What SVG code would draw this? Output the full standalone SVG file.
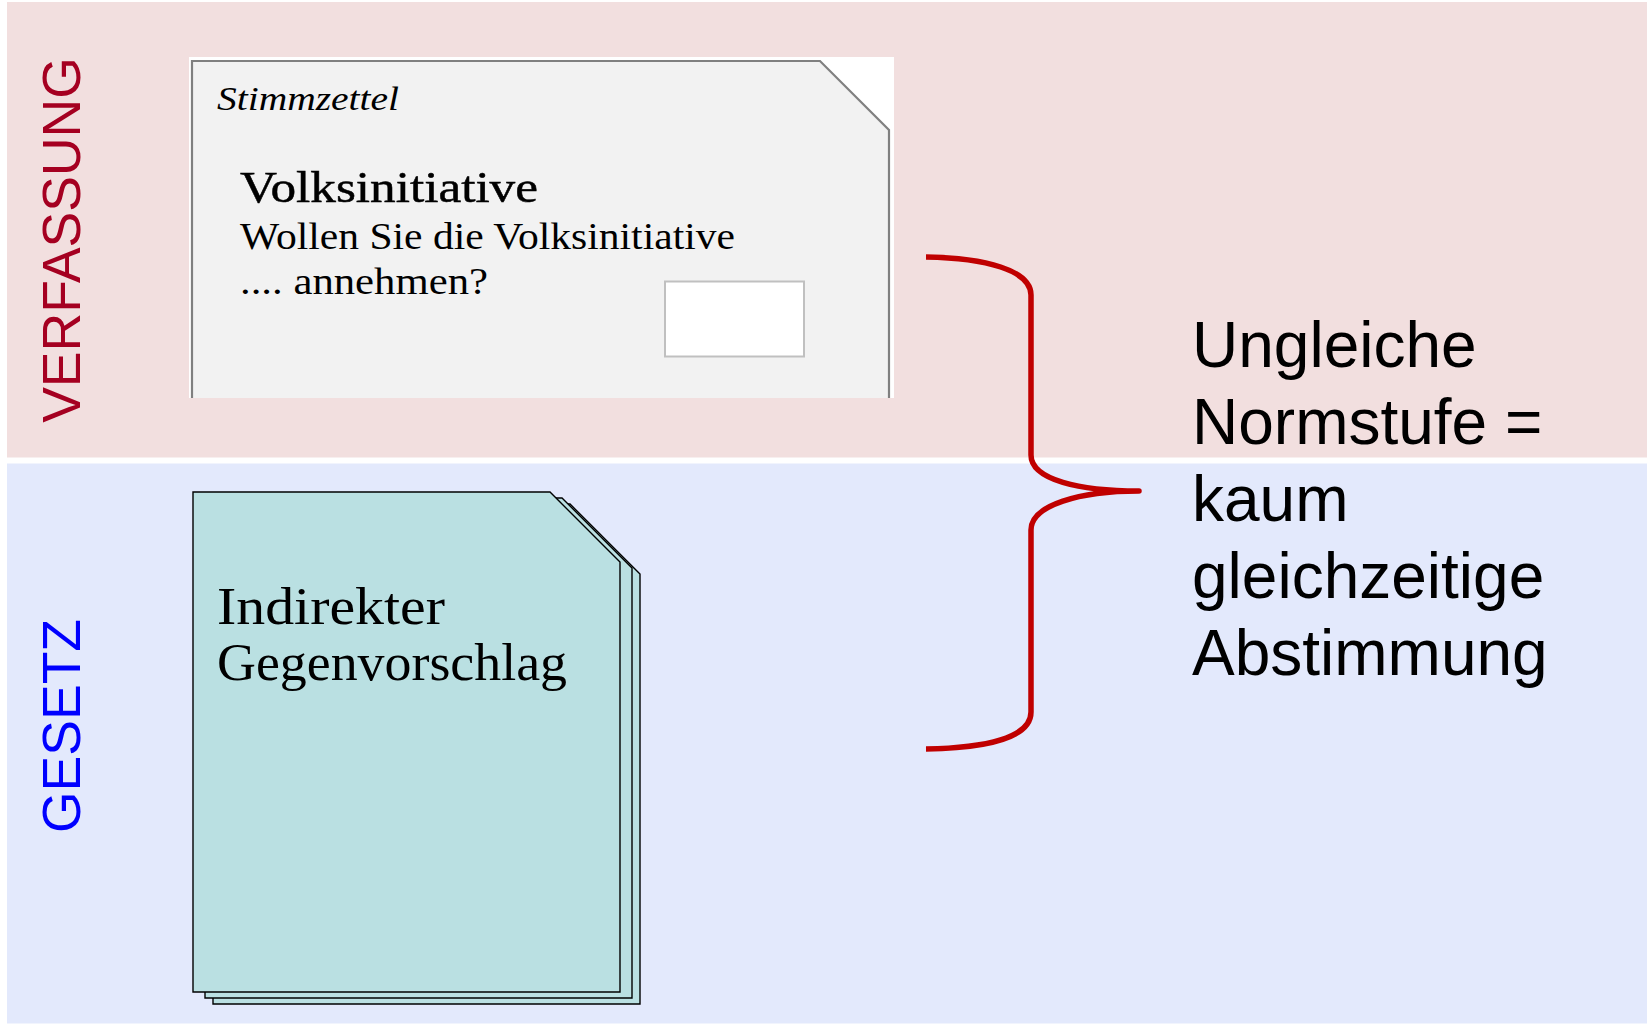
<svg xmlns="http://www.w3.org/2000/svg" width="1647" height="1024" viewBox="0 0 1647 1024">
  <style>
    .band-label { font-family: "Liberation Sans", Arial, sans-serif; font-size: 53.5px; }
    .serif { font-family: "Liberation Serif", "Times New Roman", serif; fill: #000; }
    .sans { font-family: "Liberation Sans", Arial, sans-serif; font-size: 64px; fill: #000; }
    .page { fill: #BAE0E2; stroke: #000; stroke-width: 1.4; }
  </style>
  <rect width="1647" height="1024" fill="#FFFFFF"/>
  <g id="band-verfassung">
    <rect x="7" y="2" width="1640" height="455.5" fill="#F2DFDF"/>
    <text class="band-label" fill="#A50021" text-anchor="middle" transform="translate(80,240) rotate(-90)">VERFASSUNG</text>
  </g>
  <g id="band-gesetz">
    <rect x="7" y="463.5" width="1640" height="560" fill="#E3E9FC"/>
    <text class="band-label" fill="#0000FF" text-anchor="middle" transform="translate(80,726) rotate(-90)">GESETZ</text>
  </g>
  <g id="stimmzettel">
    <rect x="189" y="57" width="705" height="341" fill="#FFFFFF"/>
    <path d="M192,398 L192,61 L820,61 L889,130 L889,398" fill="#F2F2F2" stroke="#808080" stroke-width="2.2"/>
    <text class="serif" x="217" y="110" font-size="33" font-style="italic" textLength="182" lengthAdjust="spacingAndGlyphs">Stimmzettel</text>
    <text class="serif" x="240" y="202" font-size="45" stroke="#000" stroke-width="0.5" textLength="298" lengthAdjust="spacingAndGlyphs">Volksinitiative</text>
    <text class="serif" x="240" y="249" font-size="37" textLength="495" lengthAdjust="spacingAndGlyphs">Wollen Sie die Volksinitiative</text>
    <text class="serif" x="240" y="294" font-size="37" textLength="248" lengthAdjust="spacingAndGlyphs">.... annehmen?</text>
    <rect x="665" y="281.5" width="139" height="75" fill="#FFFFFF" stroke="#C0C0C0" stroke-width="2"/>
  </g>
  <g id="gegenvorschlag">
    <path class="page" d="M213,504 L570,504 L640,574 L640,1004 L213,1004 Z"/>
    <path class="page" d="M205,498 L562,498 L632,568 L632,998 L205,998 Z"/>
    <path class="page" d="M193,492 L550,492 L620,562 L620,992 L193,992 Z"/>
    <text class="serif" x="217" y="624" font-size="52" textLength="228" lengthAdjust="spacingAndGlyphs">Indirekter</text>
    <text class="serif" x="217" y="680" font-size="52" textLength="350" lengthAdjust="spacingAndGlyphs">Gegenvorschlag</text>
  </g>
  <g id="connectors">
    <path d="M926,257 C985,258 1031,270 1031,295 L1031,455 C1031,480 1080,491 1139,491 C1080,491 1031,505 1031,530 L1031,712 C1031,738 985,748 926,749" fill="none" stroke="#C00000" stroke-width="5.5" stroke-linejoin="round"/>
  </g>
  <g id="ergebnis">
    <text class="sans" x="1192" y="367">Ungleiche</text>
    <text class="sans" x="1192" y="444">Normstufe =</text>
    <text class="sans" x="1192" y="521">kaum</text>
    <text class="sans" x="1192" y="598">gleichzeitige</text>
    <text class="sans" x="1192" y="675">Abstimmung</text>
  </g>
</svg>
